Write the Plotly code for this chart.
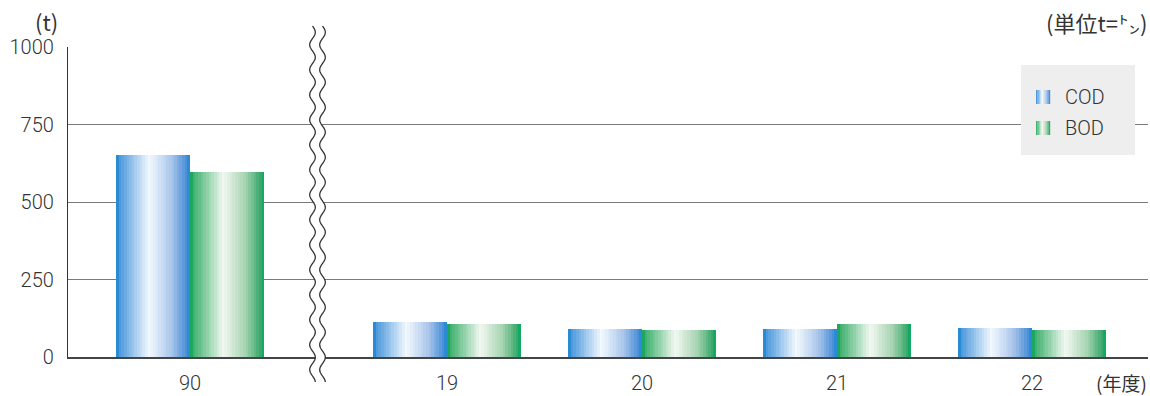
import numpy as np
import plotly.graph_objects as go

# ---- data ----
years = ["90", "19", "20", "21", "22"]
cod = [652, 113, 90, 90, 94]
bod = [597, 106, 87, 106, 87]
y_ticks = [0, 250, 500, 750, 1000]

# ---- layout helpers (positions, not data) ----
# category slots: 90 separated by a break from 19-22
slot = [-1.318, 0, 1, 2, 3]
bar_w = 0.38
N = 28

def hex2rgb(h):
    h = h.lstrip("#")
    return [int(h[i:i + 2], 16) for i in (0, 2, 4)]

def grad(stops, t):
    for (t0, c0), (t1, c1) in zip(stops[:-1], stops[1:]):
        if t0 <= t <= t1:
            f = 0 if t1 == t0 else (t - t0) / (t1 - t0)
            a, b = hex2rgb(c0), hex2rgb(c1)
            return "rgb(%d,%d,%d)" % tuple(round(a[i] + (b[i] - a[i]) * f) for i in range(3))
    return stops[-1][1]

cod_stops = [(0, "#0c84ce"), (0.04, "#4a96dc"), (0.45, "#f2f9fe"), (0.75, "#a9c5ea"),
             (0.95, "#4a90d8"), (1.0, "#1a88d0")]
bod_stops = [(0, "#00a058"), (0.04, "#3caf6c"), (0.45, "#f2f8f1"), (0.75, "#a4d3b0"),
             (0.95, "#38a86a"), (1.0, "#00a862")]

fig = go.Figure()
for name, vals, stops, base in [("COD", cod, cod_stops, -bar_w), ("BOD", bod, bod_stops, 0.0)]:
    sw = bar_w / N
    for i in range(N):
        t = (i + 0.5) / N
        fig.add_trace(go.Bar(
            x=slot, y=vals, width=sw * 1.02, offset=base + i * sw,
            marker=dict(color=grad(stops, t), line=dict(width=0)),
            name=name, showlegend=False, hoverinfo="skip" if i else "y+name",
        ))

# ---- geometry in pixels -> paper ----
L, R, T, B = 68, 1148, 47, 357
def px(x):
    return (x - L) / (R - L)
def py(y):
    return (B - y) / (B - T)

shapes = []
# break: white band between two wavy lines
ys = np.linspace(26, 382, 400)
amp, period = 2.8, 25.0
wave = amp * np.sin(2 * np.pi * (ys - 26) / period)
xl = 312.5 + wave
xr = 322.5 + wave
pts = [(xl[k], ys[k]) for k in range(len(ys))] + [(xr[k], ys[k]) for k in range(len(ys) - 1, -1, -1)]
path = "M " + " L ".join("%.5f,%.5f" % (px(a), py(b)) for a, b in pts) + " Z"
shapes.append(dict(type="path", xref="paper", yref="paper", path=path,
                   fillcolor="white", line=dict(width=0), layer="above"))
for xs in (xl, xr):
    p = "M " + " L ".join("%.5f,%.5f" % (px(xs[k]), py(ys[k])) for k in range(len(ys)))
    shapes.append(dict(type="path", xref="paper", yref="paper", path=p,
                       line=dict(color="#333333", width=1.3), layer="above"))

# custom legend box
shapes.append(dict(type="rect", xref="paper", yref="paper",
                   x0=px(1021), x1=px(1135), y0=py(155), y1=py(65),
                   fillcolor="#eeeeee", line=dict(width=0), layer="above"))
M = 10
for stops, y0 in [(cod_stops, 90), (bod_stops, 121)]:
    for i in range(M):
        xa = 1036 + 14 * i / M
        shapes.append(dict(type="rect", xref="paper", yref="paper",
                           x0=px(xa), x1=px(xa + 14 / M + 0.2), y0=py(y0 + 14), y1=py(y0),
                           fillcolor=grad(stops, (i + 0.5) / M), line=dict(width=0), layer="above"))

TXT = "#333333"
LAT = dict(family="Roboto, sans-serif", size=20, color=TXT, weight=300)
CJK = dict(family="'Noto Sans CJK JP', sans-serif", size=22, color=TXT, weight=400)
annotations = [
    dict(text="COD", x=px(1063), y=py(97), xref="paper", yref="paper", xanchor="left",
         yanchor="middle", showarrow=False, font=LAT),
    dict(text="BOD", x=px(1063), y=py(128), xref="paper", yref="paper", xanchor="left",
         yanchor="middle", showarrow=False, font=LAT),
    dict(text="(t)", x=px(46), y=py(21), xref="paper", yref="paper", xanchor="center",
         yanchor="middle", showarrow=False, font=dict(CJK, size=22)),
    dict(text="(単位t=㌧)", x=px(1149), y=py(22), xref="paper", yref="paper", xanchor="right",
         yanchor="middle", showarrow=False, font=CJK),
    dict(text="(年度)", x=px(1149), y=py(382), xref="paper", yref="paper", xanchor="right",
         yanchor="middle", showarrow=False, font=dict(CJK, size=19)),
]

fig.update_layout(
    width=1150, height=396,
    margin=dict(l=L, r=1150 - R, t=T, b=396 - B, autoexpand=False),
    paper_bgcolor="white", plot_bgcolor="white",
    barmode="overlay", bargap=0,
    shapes=shapes, annotations=annotations,
    font=dict(family="Roboto, sans-serif", size=20, color=TXT),
    xaxis=dict(range=[-1.944, 3.595], tickvals=slot, ticktext=years, showgrid=False,
               zeroline=False, showline=True, linecolor="#444444", linewidth=1.5,
               ticks="", ticklabelstandoff=7, tickfont=LAT, automargin=False),
    yaxis=dict(range=[0, 1000], tickvals=y_ticks, showgrid=True, gridcolor="#7a7a7a",
               gridwidth=1, zeroline=False, showline=True, linecolor="#333333", linewidth=1.3,
               ticks="", ticklabelstandoff=9, tickfont=LAT, automargin=False),
)

fig.write_html("out.html")
